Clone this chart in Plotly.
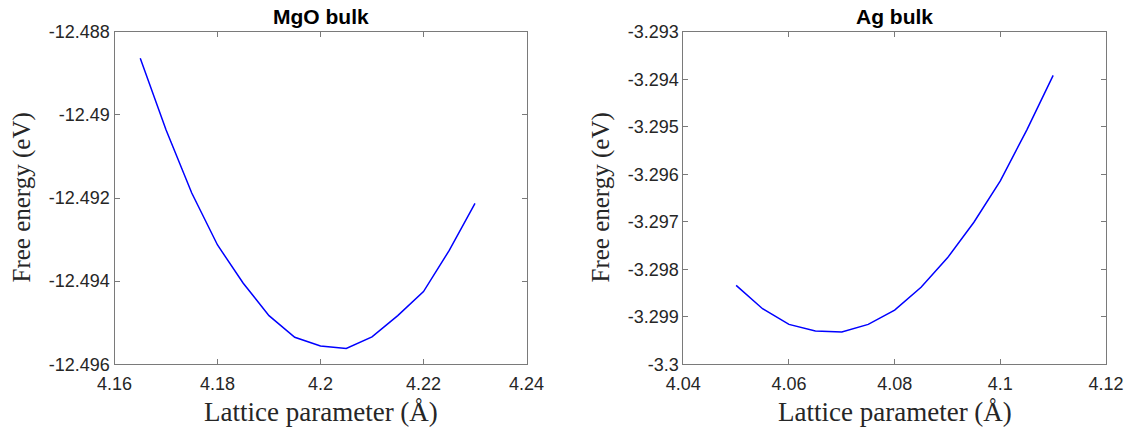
import plotly.graph_objects as go

# ---------------- data ----------------
mgo_a = [4.165, 4.17, 4.175, 4.18, 4.185, 4.19, 4.195, 4.2, 4.205, 4.21, 4.215, 4.22, 4.225, 4.23]
mgo_e = [-12.48864, -12.49036, -12.49188, -12.49313, -12.49405, -12.49483, -12.49535,
         -12.49556, -12.49562, -12.49534, -12.49483, -12.49425, -12.49326, -12.49213]

ag_a = [4.05, 4.055, 4.06, 4.065, 4.07, 4.075, 4.08, 4.085, 4.09, 4.095, 4.1, 4.105, 4.11]
ag_e = [-3.29834, -3.29883, -3.29916, -3.2993, -3.29932, -3.29916, -3.29886,
        -3.29838, -3.29776, -3.29701, -3.29614, -3.29507, -3.29392]

mgo_xticks = [4.16, 4.18, 4.20, 4.22, 4.24]
mgo_xticktext = ["4.16", "4.18", "4.2", "4.22", "4.24"]
mgo_yticks = [-12.496, -12.494, -12.492, -12.490, -12.488]
mgo_yticktext = ["-12.496", "-12.494", "-12.492", "-12.49", "-12.488"]

ag_xticks = [4.04, 4.06, 4.08, 4.10, 4.12]
ag_xticktext = ["4.04", "4.06", "4.08", "4.1", "4.12"]
ag_yticks = [-3.300, -3.299, -3.298, -3.297, -3.296, -3.295, -3.294, -3.293]
ag_yticktext = ["-3.3", "-3.299", "-3.298", "-3.297", "-3.296", "-3.295", "-3.294", "-3.293"]

titles = ["MgO bulk", "Ag bulk"]
xlabel = "Lattice parameter (Å)"
ylabel = "Free energy (eV)"

# ---------------- layout geometry ----------------
W, H = 1129, 430
dom1 = [114.5 / W, 526.5 / W]
dom2 = [683.3 / W, 1106.0 / W]
ydom = [(H - 364.3) / H, (H - 31.7) / H]

tickfont = dict(family="Liberation Sans, Arial, sans-serif", size=18, color="#262626")
serif_x = dict(family="Liberation Serif, Times New Roman, serif", size=27, color="#262626")
serif_y = dict(family="Liberation Serif, Times New Roman, serif", size=25, color="#262626")
axcol = "#7a7a7a"

def axis_style(domain, tickvals, ticktext, rng, anchor, standoff):
    return dict(
        domain=domain, range=rng, tickvals=tickvals, ticktext=ticktext,
        ticks="inside", ticklen=5, tickwidth=1, tickcolor=axcol,
        showline=True, linecolor=axcol, linewidth=1, mirror="ticks",
        showgrid=False, zeroline=False, tickfont=tickfont, anchor=anchor,
        automargin=False, ticklabelstandoff=standoff,
    )

fig = go.Figure()
fig.add_trace(go.Scatter(x=mgo_a, y=mgo_e, mode="lines",
                         line=dict(color="#0000ff", width=1.5),
                         xaxis="x", yaxis="y", showlegend=False))
fig.add_trace(go.Scatter(x=ag_a, y=ag_e, mode="lines",
                         line=dict(color="#0000ff", width=1.5),
                         xaxis="x2", yaxis="y2", showlegend=False))

fig.update_layout(
    template="none",
    width=W, height=H,
    margin=dict(l=0, r=0, t=0, b=0, pad=0),
    paper_bgcolor="white", plot_bgcolor="white",
    xaxis=axis_style(dom1, mgo_xticks, mgo_xticktext, [4.16, 4.24], "y", 3),
    yaxis=axis_style(ydom, mgo_yticks, mgo_yticktext, [-12.496, -12.488], "x", 0),
    xaxis2=axis_style(dom2, ag_xticks, ag_xticktext, [4.04, 4.12], "y2", 3),
    yaxis2=axis_style(ydom, ag_yticks, ag_yticktext, [-3.300, -3.293], "x2", 0),
)

ann = []
for dom, t, ylx in [(dom1, titles[0], 21.5), (dom2, titles[1], 600.5)]:
    cx = (dom[0] + dom[1]) / 2
    ann.append(dict(text="<b>%s</b>" % t, x=cx, y=(H - 16) / H, xref="paper", yref="paper",
                    xanchor="center", yanchor="middle", showarrow=False,
                    font=dict(family="Liberation Sans, Arial, sans-serif", size=21, color="#000000")))
    ann.append(dict(text=xlabel, x=cx, y=(H - 411.5) / H, xref="paper", yref="paper",
                    xanchor="center", yanchor="middle", showarrow=False, font=serif_x))
    ann.append(dict(text=ylabel, x=ylx / W, y=(ydom[0] + ydom[1]) / 2, xref="paper", yref="paper",
                    xanchor="center", yanchor="middle", textangle=-90, showarrow=False, font=serif_y))
fig.update_layout(annotations=ann)

fig.write_html("out.html")
